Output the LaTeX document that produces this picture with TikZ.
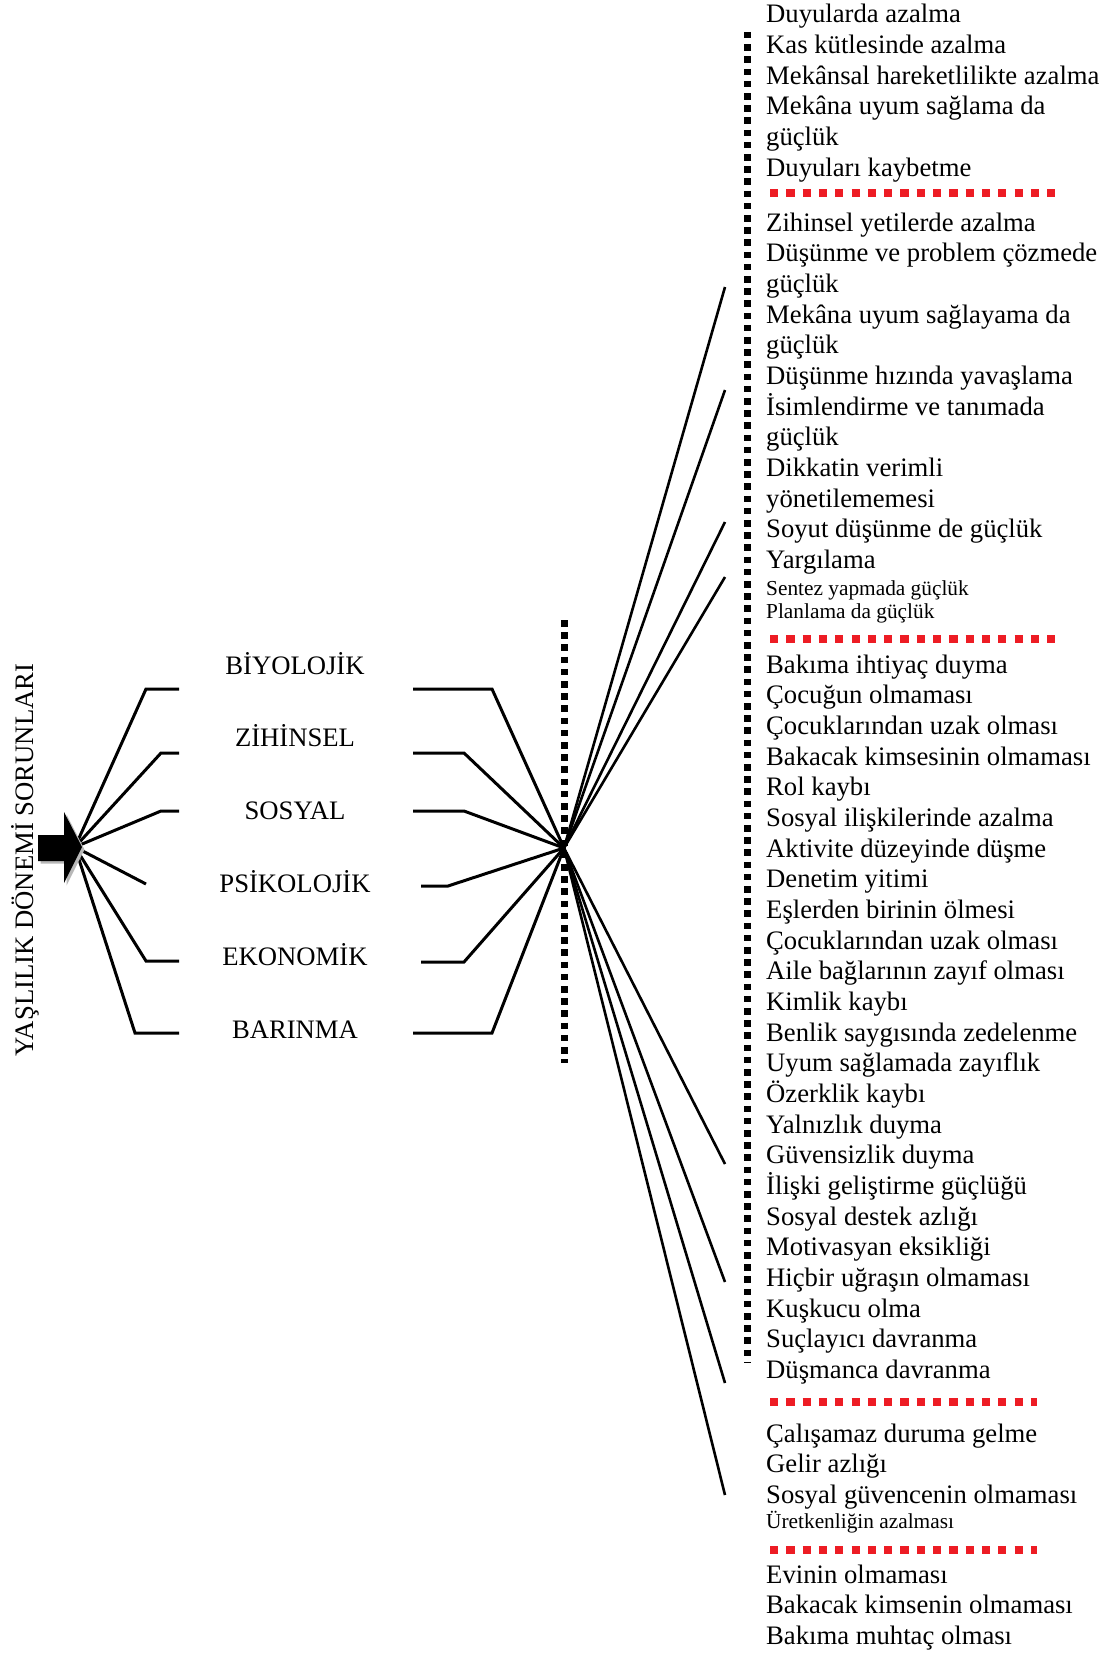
\documentclass[tikz,border=0pt]{standalone}
\usepackage{fontspec}
\setmainfont{Liberation Serif}
\definecolor{wordred}{RGB}{237,28,36}
\begin{document}
\begin{tikzpicture}[x=1pt,y=-1pt,
  lbl/.style={font=\fontsize{26.67}{30}\selectfont, inner sep=0pt, anchor=base},
  item/.style={font=\fontsize{26.67}{30}\selectfont, inner sep=0pt, anchor=base west},
  smallitem/.style={font=\fontsize{21.33}{24}\selectfont, inner sep=0pt, anchor=base west},
  brk/.style={line width=3pt},
  fan/.style={line width=2.6pt},
  blkdots/.style={line width=7pt, dash pattern=on 6.5pt off 5.7pt},
  reddash/.style={draw=wordred, line width=8pt, dash pattern=on 8.2pt off 8.1pt}]
\useasboundingbox (0,0) rectangle (1110,1654);

% title
\node[lbl, rotate=90] (title) at (33,860) {YAŞLILIK DÖNEMİ SORUNLARI};

% category labels
\node[lbl] (bio) at (295,674) {BİYOLOJİK};
\node[lbl] (zih) at (295,746) {ZİHİNSEL};
\node[lbl] (sos) at (295,819) {SOSYAL};
\node[lbl] (psi) at (295,892) {PSİKOLOJİK};
\node[lbl] (eko) at (295,965) {EKONOMİK};
\node[lbl] (bar) at (295,1038) {BARINMA};

% key points
\coordinate (src) at (75,847);
\coordinate (hub) at (564,848);

% left brackets
\coordinate (bioL) at (179,689); \coordinate (bioLb) at (146,689);
\coordinate (zihL) at (179,753); \coordinate (zihLb) at (161,753);
\coordinate (sosL) at (179,811); \coordinate (sosLb) at (161,811);
\coordinate (psiLb) at (146,884);
\coordinate (ekoL) at (179,961); \coordinate (ekoLb) at (146,961);
\coordinate (barL) at (179,1033); \coordinate (barLb) at (135,1033);
\draw[brk] (src) -- (bioLb) -- (bioL);
\draw[brk] (src) -- (zihLb) -- (zihL);
\draw[brk] (src) -- (sosLb) -- (sosL);
\draw[brk] (src) -- (psiLb);
\draw[brk] (src) -- (ekoLb) -- (ekoL);
\draw[brk] (src) -- (barLb) -- (barL);

% right brackets
\coordinate (bioR) at (413,689); \coordinate (bioRb) at (492,689);
\coordinate (zihR) at (413,753); \coordinate (zihRb) at (464,753);
\coordinate (sosR) at (413,811); \coordinate (sosRb) at (464,811);
\coordinate (psiR) at (421,886); \coordinate (psiRb) at (448,886);
\coordinate (ekoR) at (421,962); \coordinate (ekoRb) at (464,962);
\coordinate (barR) at (413,1033); \coordinate (barRb) at (492,1033);
\draw[brk] (bioR) -- (bioRb) -- (hub);
\draw[brk] (zihR) -- (zihRb) -- (hub);
\draw[brk] (sosR) -- (sosRb) -- (hub);
\draw[brk] (psiR) -- (psiRb) -- (hub);
\draw[brk] (ekoR) -- (ekoRb) -- (hub);
\draw[brk] (barR) -- (barRb) -- (hub);

% dotted verticals
\coordinate (hubT) at (564,620); \coordinate (hubB) at (564,1063);
\draw[blkdots] (hubT) -- (hubB);
\coordinate (rT) at (747,32); \coordinate (rB) at (747,1362);
\draw[blkdots] (rT) -- (rB);

% fan lines
\foreach \yy [count=\i] in {287,390,522,577,1164,1282,1383,1495} {
  \coordinate (f\i) at (725,\yy);
  \draw[fan] (hub) -- (f\i);
}

% arrow with shadow
\fill[black!28] (40.5,837.5) -- (66.5,837.5) -- (66.5,814.5) -- (84.5,849.5) -- (66.5,885.5) -- (66.5,863.5) -- (40.5,863.5) -- cycle;
\fill[black] (38,835) -- (64,835) -- (64,812) -- (82,847) -- (64,883) -- (64,861) -- (38,861) -- cycle;

% group 1
\foreach \t [count=\i] in {Duyularda azalma, Kas kütlesinde azalma, Mekânsal hareketlilikte azalma, Mekâna uyum sağlama da, güçlük, Duyuları kaybetme} {
  \node[item] (a\i) at (766,{22.7+(\i-1)*30.67}) {\t};
}
\coordinate (r1a) at (770,193); \coordinate (r1b) at (1063,193);
\draw[reddash] (r1a) -- (r1b);

% group 2
\foreach \t [count=\i] in {Zihinsel yetilerde azalma, Düşünme ve problem çözmede, güçlük, Mekâna uyum sağlayama da, güçlük, Düşünme hızında yavaşlama, İsimlendirme ve tanımada, güçlük, Dikkatin verimli, yönetilememesi, Soyut düşünme de güçlük, Yargılama} {
  \node[item] (b\i) at (766,{231+(\i-1)*30.67}) {\t};
}
\node[smallitem] (b13) at (766,595) {Sentez yapmada güçlük};
\node[smallitem] (b14) at (766,618) {Planlama da güçlük};
\coordinate (r2a) at (770,639); \coordinate (r2b) at (1063,639);
\draw[reddash] (r2a) -- (r2b);

% group 3
\foreach \t [count=\i] in {Bakıma ihtiyaç duyma, Çocuğun olmaması, Çocuklarından uzak olması, Bakacak kimsesinin olmaması, Rol kaybı, Sosyal ilişkilerinde azalma, Aktivite düzeyinde düşme, Denetim yitimi, Eşlerden birinin ölmesi, Çocuklarından uzak olması, Aile bağlarının zayıf olması, Kimlik kaybı, Benlik saygısında zedelenme, Uyum sağlamada zayıflık, Özerklik kaybı, Yalnızlık duyma, Güvensizlik duyma, İlişki geliştirme güçlüğü, Sosyal destek azlığı, Motivasyan eksikliği, Hiçbir uğraşın olmaması, Kuşkucu olma, Suçlayıcı davranma, Düşmanca davranma} {
  \node[item] (c\i) at (766,{673+(\i-1)*30.67}) {\t};
}
\coordinate (r3a) at (770,1402); \coordinate (r3b) at (1037,1402);
\draw[reddash] (r3a) -- (r3b);

% group 4
\foreach \t [count=\i] in {Çalışamaz duruma gelme, Gelir azlığı, Sosyal güvencenin olmaması} {
  \node[item] (d\i) at (766,{1442+(\i-1)*30.67}) {\t};
}
\node[smallitem] (d4) at (766,1528) {Üretkenliğin azalması};
\coordinate (r4a) at (770,1550); \coordinate (r4b) at (1037,1550);
\draw[reddash] (r4a) -- (r4b);

% group 5
\foreach \t [count=\i] in {Evinin olmaması, Bakacak kimsenin olmaması, Bakıma muhtaç olması} {
  \node[item] (e\i) at (766,{1583+(\i-1)*30.67}) {\t};
}
\end{tikzpicture}
\end{document}
